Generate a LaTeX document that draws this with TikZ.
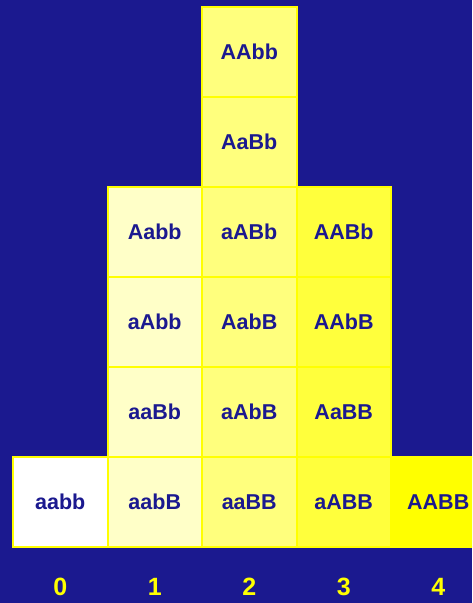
\documentclass[tikz,border=0pt]{standalone}
\usepackage{fontspec}
\setmainfont{Liberation Sans}
\definecolor{navy}{RGB}{27,25,143}
\definecolor{lemon}{RGB}{255,255,0}
\definecolor{pale}{RGB}{255,255,200}
\definecolor{mid}{RGB}{255,255,125}
\definecolor{deep}{RGB}{255,255,60}
\tikzset{
  cell/.style={draw=lemon, line width=2pt, minimum width=94.5pt, minimum height=90pt,
    inner sep=0pt, text=navy, font=\fontsize{21.5}{24}\selectfont\bfseries},
  count/.style={text=lemon, font=\fontsize{25}{28}\selectfont\bfseries}
}
\begin{document}
\begin{tikzpicture}[x=1pt, y=1pt]
  \fill[navy] (0, 0) rectangle (472, 603);
  \useasboundingbox (0, 0) rectangle (472, 603);
  \clip (0, 0) rectangle (472, 603);

  % column 0
  \node[cell, fill=white] (c0r0) at (60.25, 101) {aabb};

  % column 1
  \foreach \g [count=\r from 0] in {aabB, aaBb, aAbb, Aabb}
    \node[cell, fill=pale] (c1r\r) at (154.75, 101+90*\r) {\g};

  % column 2
  \foreach \g [count=\r from 0] in {aaBB, aAbB, AabB, aABb, AaBb, AAbb}
    \node[cell, fill=mid] (c2r\r) at (249.25, 101+90*\r) {\g};

  % column 3
  \foreach \g [count=\r from 0] in {aABB, AaBB, AAbB, AABb}
    \node[cell, fill=deep] (c3r\r) at (343.75, 101+90*\r) {\g};

  % column 4
  \node[cell, fill=lemon] (c4r0) at (438.25, 101) {AABB};

  % counts below
  \foreach \n in {0, ..., 4}
    \node[count] (n\n) at (60.25+94.5*\n, 16) {\n};
\end{tikzpicture}
\end{document}
